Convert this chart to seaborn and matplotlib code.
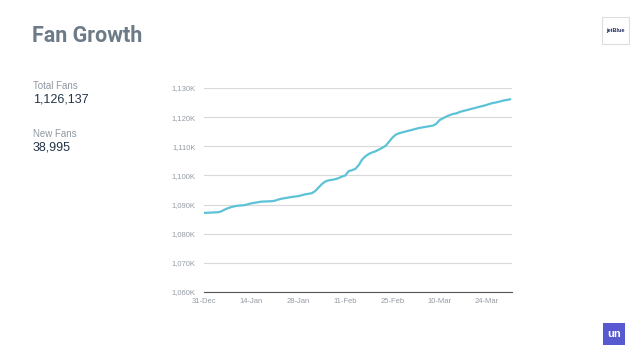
import numpy as np
import pandas as pd
import matplotlib
matplotlib.use("Agg")
import matplotlib.pyplot as plt
import matplotlib.dates as mdates
import seaborn as sns
from matplotlib.patches import Rectangle

# ---------------------------------------------------------
# DATA (total fans in thousands, one value per day)
# ---------------------------------------------------------
start_date = "2015-12-31"
fans_k = [
    1087.14, 1087.2, 1087.25, 1087.3, 1087.35, 1087.6, 1088.2, 1088.7, 1089.1, 1089.4,
    1089.6, 1089.7, 1089.8, 1090.1, 1090.4, 1090.6, 1090.8, 1091.0, 1091.05, 1091.1,
    1091.15, 1091.3, 1091.7, 1092.0, 1092.2, 1092.4, 1092.6, 1092.75, 1092.9, 1093.2,
    1093.5, 1093.7, 1093.9, 1094.6, 1095.8, 1097.0, 1097.9, 1098.3, 1098.5, 1098.7,
    1099.1, 1099.6, 1100.0, 1101.5, 1101.8, 1102.3, 1103.6, 1105.5, 1106.6, 1107.4,
    1107.9, 1108.3, 1108.9, 1109.5, 1110.2, 1111.6, 1113.0, 1114.0, 1114.5, 1114.8,
    1115.1, 1115.4, 1115.7, 1116.0, 1116.3, 1116.5, 1116.7, 1116.9, 1117.1, 1117.7,
    1119.0, 1119.6, 1120.2, 1120.7, 1121.1, 1121.3, 1121.8, 1122.1, 1122.4, 1122.7,
    1123.0, 1123.3, 1123.6, 1123.9, 1124.2, 1124.6, 1124.9, 1125.1, 1125.4, 1125.7,
    1125.9, 1126.137,
]
y_ticks = [1060, 1070, 1080, 1090, 1100, 1110, 1120, 1130]
x_tick_labels = ["31-Dec", "14-Jan", "28-Jan", "11-Feb", "25-Feb", "10-Mar", "24-Mar"]

title = "Fan Growth"
kpi_labels = ["Total Fans", "New Fans"]
kpi_values = ["1,126,137", "38,995"]

df = pd.DataFrame({
    "date": pd.date_range(start_date, periods=len(fans_k), freq="D"),
    "fans": fans_k,
})

# ---------------------------------------------------------
# PLOT
# ---------------------------------------------------------
sns.set_style("white")
plt.rcParams["font.family"] = ["Liberation Sans", "DejaVu Sans"]

fig = plt.figure(figsize=(6.38, 3.59), dpi=100)
ax = fig.add_axes([204 / 638, 1 - 292 / 359, 308 / 638, (292 - 88) / 359])

sns.lineplot(data=df, x="date", y="fans", ax=ax, color="#5cc3d6", linewidth=1.6)

ax.set_ylim(1060, 1130)
ax.set_yticks(y_ticks)
ax.set_yticklabels([f"{v:,}K" for v in y_ticks])
tick_dates = pd.date_range(start_date, periods=len(x_tick_labels), freq="14D")
ax.set_xticks(tick_dates)
ax.set_xticklabels(x_tick_labels)
ax.set_xlim(df["date"].iloc[0], df["date"].iloc[-1] + pd.Timedelta(days=0.5))
ax.set_xlabel("")
ax.set_ylabel("")

ax.grid(axis="y", color="#d9d9d9", linewidth=0.8)
ax.set_axisbelow(True)
for s in ["left", "right", "top"]:
    ax.spines[s].set_visible(False)
ax.spines["bottom"].set_color("#555555")
ax.spines["bottom"].set_linewidth(0.8)
ax.tick_params(axis="both", length=0, labelsize=5.5, labelcolor="#949ca5")
ax.tick_params(axis="y", pad=6)
ax.tick_params(axis="x", pad=4)

# Title + KPIs
fig.text(32 / 638, 1 - 36 / 359, title, fontsize=15.5, fontweight="bold",
         color="#6d7b89", va="center", family=["Roboto", "DejaVu Sans"])
fig.text(33 / 638, 1 - 86 / 359, kpi_labels[0], fontsize=7, color="#8f98a2", va="center")
fig.text(33 / 638, 1 - 100 / 359, kpi_values[0], fontsize=9, color="#243447", va="center")
fig.text(33 / 638, 1 - 134 / 359, kpi_labels[1], fontsize=7, color="#8f98a2", va="center")
fig.text(33 / 638, 1 - 148 / 359, kpi_values[1], fontsize=9, color="#243447", va="center")

# Logos
fig.patches.append(Rectangle((602 / 638, 1 - 44 / 359), 27 / 638, 27 / 359,
                             transform=fig.transFigure, facecolor="white",
                             edgecolor="#dddddd", linewidth=0.8))
fig.text(615.5 / 638, 1 - 30.5 / 359, "jetBlue", fontsize=4, fontweight="bold",
         color="#1b2a5e", ha="center", va="center")
fig.patches.append(Rectangle((603 / 638, 1 - 345 / 359), 22 / 638, 22 / 359,
                             transform=fig.transFigure, facecolor="#5858d0",
                             edgecolor="none"))
fig.text(614 / 638, 1 - 334 / 359, "un", fontsize=8, fontweight="bold",
         color="white", ha="center", va="center")

fig.savefig("out.png", dpi=100)
